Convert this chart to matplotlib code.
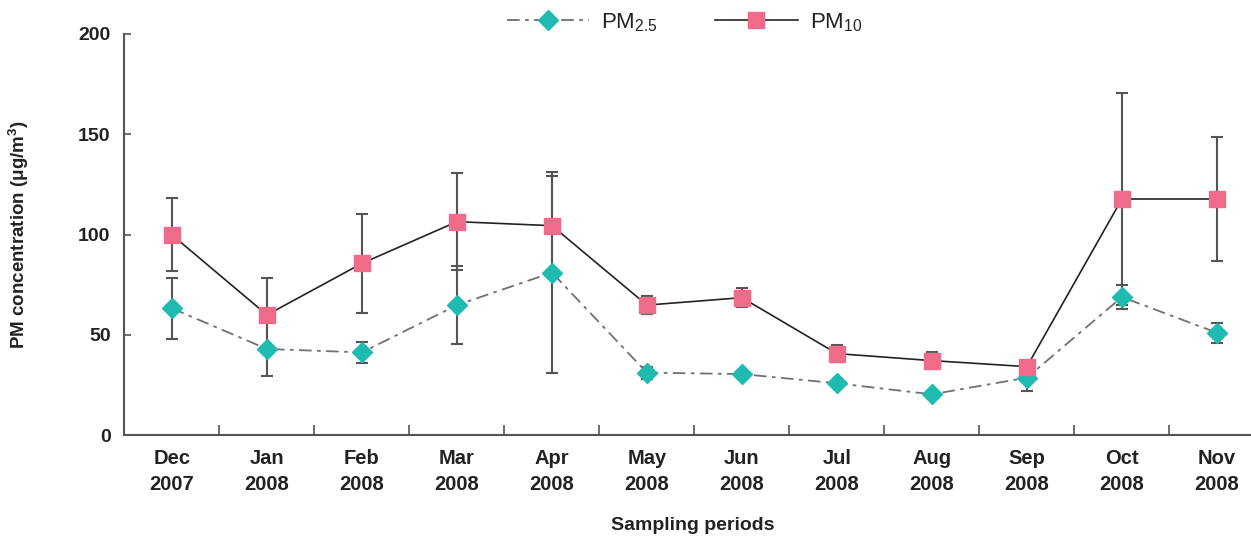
import matplotlib
matplotlib.use("Agg")
import matplotlib.pyplot as plt
from matplotlib.ticker import FixedLocator
import numpy as np

months = ["Dec", "Jan", "Feb", "Mar", "Apr", "May", "Jun", "Jul", "Aug", "Sep", "Oct", "Nov"]
years = ["2007", "2008", "2008", "2008", "2008", "2008", "2008", "2008", "2008", "2008", "2008", "2008"]

pm25_mean = [63.2, 42.9, 41.2, 64.8, 81.0, 31.1, 30.4, 25.8, 20.3, 28.6, 68.8, 51.0]
pm25_sd = [15.3, 13.5, 5.4, 19.3, 50.0, 3.0, 1.0, 1.5, 1.0, 6.5, 6.0, 5.0]

pm10_mean = [99.8, 59.9, 85.6, 106.4, 104.4, 64.8, 68.5, 40.6, 37.1, 34.1, 117.7, 117.7]
pm10_sd = [18.2, 18.2, 24.5, 24.3, 25.0, 4.4, 4.6, 4.2, 4.3, 2.0, 53.0, 31.0]

plt.rcParams["font.family"] = ["Liberation Sans Narrow", "Liberation Sans", "DejaVu Sans"]
plt.rcParams["mathtext.default"] = "regular"

fig = plt.figure(figsize=(12.51, 5.36), dpi=100)
ax = fig.add_axes([0.0995, 0.1884, 0.9112, 0.7482])

x = np.arange(len(months))
teal = "#20bbb0"
pink = "#f06a8a"
bar_col = "#555555"

ax.errorbar(x, pm25_mean, yerr=pm25_sd, fmt="none", ecolor=bar_col,
            elinewidth=1.5, capsize=4.5, capthick=1.5, zorder=2)
ax.errorbar(x, pm10_mean, yerr=pm10_sd, fmt="none", ecolor=bar_col,
            elinewidth=1.5, capsize=4.5, capthick=1.5, zorder=2)

l25, = ax.plot(x, pm25_mean, color="#707070", lw=1.3, linestyle=(0, (7, 3, 2, 3)),
               marker="D", markersize=10, markerfacecolor=teal,
               markeredgecolor=teal, zorder=3, label="PM$_{2.5}$")
l10, = ax.plot(x, pm10_mean, color="#222222", lw=1.2, linestyle="-",
               marker="s", markersize=11.5, markerfacecolor=pink,
               markeredgecolor=pink, zorder=4, label="PM$_{10}$")

ax.set_xlim(-0.5, 11.5)
ax.set_ylim(0, 200)
ax.set_yticks([0, 50, 100, 150, 200])

ax.set_xticks(x)
ax.set_xticklabels([f"{m}\n{y}" for m, y in zip(months, years)],
                   fontsize=14.5, fontweight="bold", color="#222222", linespacing=1.45)
ax.xaxis.set_minor_locator(FixedLocator(np.arange(-0.5, 12, 1.0)))
ax.tick_params(axis="x", which="major", length=0, pad=10)
ax.tick_params(axis="x", which="minor", direction="in", length=7, width=1.2, color=bar_col)
ax.tick_params(axis="y", direction="in", length=5, width=1.2, color=bar_col,
               labelsize=14, pad=10)
for lab in ax.get_yticklabels():
    lab.set_fontweight("bold")
    lab.set_color("#222222")

for side in ("top", "right"):
    ax.spines[side].set_visible(False)
for side in ("left", "bottom"):
    ax.spines[side].set_color(bar_col)
    ax.spines[side].set_linewidth(1.5)

ax.set_ylabel("PM concentration (μg/m$^3$)", fontsize=13.5, fontweight="bold",
              color="#222222")
ax.yaxis.set_label_coords(-0.082, 0.5)
fig.text(0.554, 0.019, "Sampling periods", fontsize=14, fontweight="bold",
         color="#222222", ha="center", va="center")

fig.legend(handles=[l25, l10], loc="center", bbox_to_anchor=(0.547, 0.958),
           ncol=2, frameon=False, fontsize=16, handlelength=3.7,
           columnspacing=2.6, handletextpad=0.55, labelcolor="#222222")

fig.savefig("out.png", dpi=100)
